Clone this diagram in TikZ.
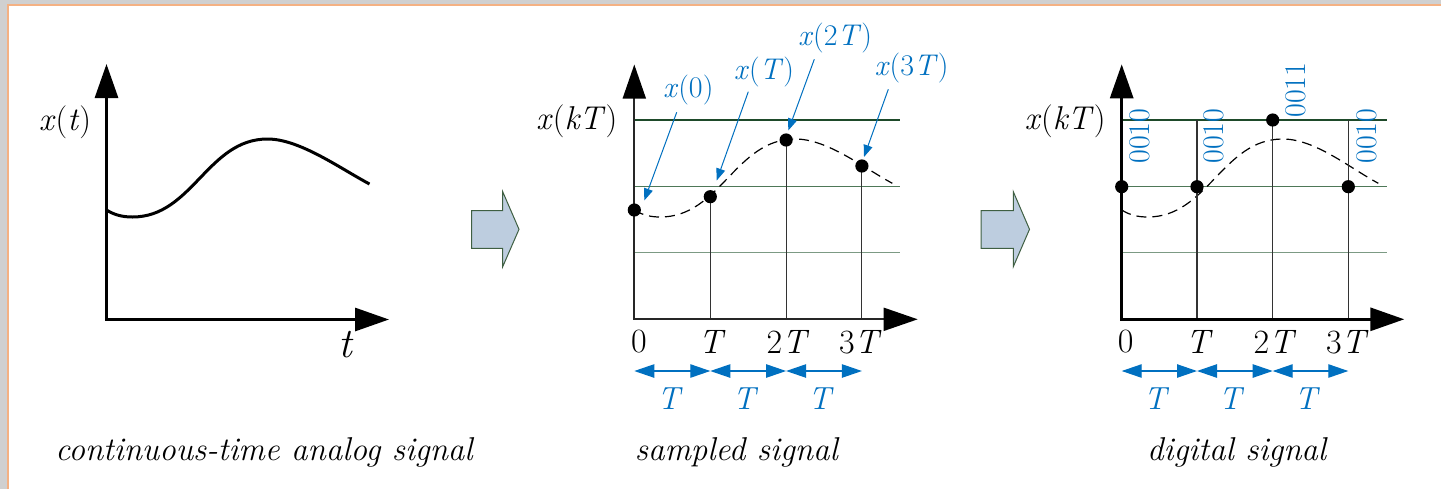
\documentclass[tikz,border=0pt]{standalone}
\usepackage{fontspec}
\usetikzlibrary{arrows.meta}
\definecolor{myblue}{HTML}{0070C0}
\definecolor{gA}{HTML}{1E4A2A}
\definecolor{gB}{HTML}{4E7858}
\definecolor{gC}{HTML}{7C9A84}
\definecolor{arrfill}{HTML}{BDCDDF}
\definecolor{arrdraw}{HTML}{3F5F42}
\definecolor{frameor}{HTML}{F4B183}
\definecolor{bggray}{HTML}{D0D0D0}
\newcommand{\mi}[1]{\textit{#1}}
\tikzset{
  bigtri/.tip={Triangle[length=17pt,width=11.5pt,color=black]},
  axthick/.style={line width=1.5pt, black, line join=miter, {bigtri}-{bigtri}},
  axthin/.style={line width=0.9pt, black!85, line join=miter, {bigtri}-{bigtri}},
  glineA/.style={line width=0.7pt, gA},
  glineB/.style={line width=0.7pt, gB},
  glineC/.style={line width=0.7pt, gC},
  vline/.style={line width=0.55pt, black!80},
  dashcurve/.style={line width=0.6pt, black, dash pattern=on 5pt off 3pt},
  solidcurve/.style={line width=1.5pt, black},
  dot/.style={circle, fill=black, inner sep=0pt, minimum size=6.6pt},
  periodarrow/.style={line width=0.6pt, myblue, {Triangle[length=10pt,width=6.7pt]}-{Triangle[length=10pt,width=6.7pt]}},
  annarrow/.style={line width=0.5pt, myblue, -{Triangle[length=6pt,width=4.5pt]}},
  blockarrow/.style={fill=arrfill, draw=arrdraw, line width=0.5pt, line join=miter},
  axlab/.style={font=\fontsize{16.5}{19}\selectfont, inner sep=0pt},
  ticklab/.style={font=\fontsize{17}{20}\selectfont, inner sep=0pt},
  tlab/.style={font=\fontsize{16}{19}\selectfont\itshape, text=myblue, inner sep=0pt},
  annlab/.style={font=\fontsize{15}{18}\selectfont, text=myblue, inner sep=0pt},
  binlab/.style={font=\fontsize{15}{18}\selectfont, text=myblue, rotate=90, inner sep=0pt},
  caption/.style={font=\fontsize{16.5}{20}\selectfont\itshape, inner sep=0pt},
}
\begin{document}
\begin{tikzpicture}[x=0.5pt,y=-0.5pt]
\useasboundingbox (0,0) rectangle (1441,489);
% frame
\fill[bggray] (0,0) rectangle (1441,489);
\fill[white] (8,5) rectangle (1441,489);
\draw[frameor, line width=1pt] (8,489) -- (8,5) -- (1441,5);

% ---------- Panel 1 ----------
\draw[solidcurve] (106.5,210) .. controls (114.5,215) and (122.5,217) .. (132.5,217)
  .. controls (192.5,217) and (207.5,139) .. (267.5,139)
  .. controls (299.5,139) and (339.5,168) .. (369.5,184);
\coordinate (p1top) at (106.5,64);
\coordinate (p1o) at (106.5,319.5);
\coordinate (p1right) at (389,319.5);
\draw[axthick] (p1top) -- (p1o) -- (p1right);
\node[axlab] (xt) at (65,122) {\mi{x}(\mi{t})};
\node[font=\fontsize{21}{24}\selectfont\itshape, inner sep=0pt] (tl) at (345,345) {t};
\node[caption] (cap1) at (264,452) {continuous-time analog signal};

% block arrows
\draw[blockarrow] (471.7,210.7) -- (502.7,210.7) -- (502.7,191.7) -- (519,229.3)
  -- (502.7,266.7) -- (502.7,248.3) -- (471.7,248.3) -- cycle;
\draw[blockarrow] (981,210.7) -- (1013.3,210.7) -- (1013.3,191.7) -- (1029.5,229.3)
  -- (1013.3,266.7) -- (1013.3,248.3) -- (981,248.3) -- cycle;

% ---------- Panel 2 ----------
\draw[glineA] (634.3,120) -- (900,120);
\draw[glineB] (634.3,186.7) -- (900,186.7);
\draw[glineC] (634.3,252.7) -- (900,252.7);
\draw[dashcurve] (634.3,210) .. controls (642.3,215) and (650.3,217) .. (660.3,217)
  .. controls (720.3,217) and (735.3,139) .. (795.3,139)
  .. controls (827.3,139) and (862.3,167) .. (892.3,183.3);
\coordinate (s0) at (634.3,210);
\coordinate (s1) at (710.3,196.7);
\coordinate (s2) at (786.1,140);
\coordinate (s3) at (861.9,166);
\coordinate (b1) at (710.3,319.3);
\coordinate (b2) at (786.1,319.3);
\coordinate (b3) at (861.9,319.3);
\draw[vline] (b1) -- (s1);
\draw[vline] (b2) -- (s2);
\draw[vline] (b3) -- (s3);
\coordinate (p2top) at (634.3,64.5);
\coordinate (p2o) at (634.3,319.3);
\coordinate (p2right) at (917.7,319.3);
\draw[axthin] (p2top) -- (p2o) -- (p2right);
\node[dot] (d0) at (s0) {};
\node[dot] (d1) at (s1) {};
\node[dot] (d2) at (s2) {};
\node[dot] (d3) at (s3) {};
\node[axlab] (xkt2) at (576.7,121.7) {\mi{x}(\mi{kT})};
\node[ticklab] (t20) at (639,342) {0};
\node[ticklab] (t21) at (712,342) {\mi{T}};
\node[ticklab] (t22) at (788,342) {2\mi{T}};
\node[ticklab] (t23) at (860.3,342) {3\mi{T}};
\coordinate (q0) at (634.3,371);
\coordinate (q1) at (710.3,371);
\coordinate (q2) at (786.1,371);
\coordinate (q3) at (861.9,371);
\draw[periodarrow] (q0) -- (q1);
\draw[periodarrow] (q1) -- (q2);
\draw[periodarrow] (q2) -- (q3);
\node[tlab] (T21) at (668.5,398.5) {T};
\node[tlab] (T22) at (744,398.5) {T};
\node[tlab] (T23) at (819.5,398.5) {T};
% annotations
\node[annlab] (ax0) at (688.3,90) {\mi{x}(0)};
\node[annlab] (ax1) at (764,71.7) {\mi{x}(\mi{T})};
\node[annlab] (ax2) at (835,38.3) {\mi{x}(2\mi{T})};
\node[annlab] (ax3) at (911.5,68.3) {\mi{x}(3\mi{T})};
\coordinate (e0s) at (676.7,112.3);
\coordinate (e0e) at (644.3,200.5);
\coordinate (e1s) at (748.3,91.7);
\coordinate (e1e) at (716.7,180.5);
\coordinate (e2s) at (814.3,59.3);
\coordinate (e2e) at (788.3,130.5);
\coordinate (e3s) at (888.3,89.3);
\coordinate (e3e) at (864,157);
\draw[annarrow] (e0s) -- (e0e);
\draw[annarrow] (e1s) -- (e1e);
\draw[annarrow] (e2s) -- (e2e);
\draw[annarrow] (e3s) -- (e3e);
\node[caption] (cap2) at (736.3,452) {sampled signal};

% ---------- Panel 3 ----------
\draw[glineA] (1121.7,120) -- (1386.7,120);
\draw[glineB] (1121.7,186.7) -- (1386.7,186.7);
\draw[glineC] (1121.7,252.7) -- (1386.7,252.7);
\draw[dashcurve] (1121.7,210) .. controls (1129.7,215) and (1137.7,217) .. (1147.7,217)
  .. controls (1207.7,217) and (1222.7,139) .. (1282.7,139)
  .. controls (1314.7,139) and (1348.3,167) .. (1378.3,183.3);
\coordinate (r0) at (1121.7,186.7);
\coordinate (r1) at (1197,186.7);
\coordinate (r2) at (1272.7,120);
\coordinate (r3) at (1348.3,186.7);
\coordinate (v1t) at (1197,120);
\coordinate (v3t) at (1348.3,120);
\coordinate (c1) at (1197,319.3);
\coordinate (c2) at (1272.7,319.3);
\coordinate (c3) at (1348.3,319.3);
\draw[vline] (c1) -- (v1t);
\draw[vline] (c2) -- (r2);
\draw[vline] (c3) -- (v3t);
\coordinate (p3top) at (1121.7,64.3);
\coordinate (p3o) at (1121.7,319.3);
\coordinate (p3right) at (1404.3,319.3);
\draw[axthick] (p3top) -- (p3o) -- (p3right);
\node[dot] (f0) at (r0) {};
\node[dot] (f1) at (r1) {};
\node[dot] (f2) at (r2) {};
\node[dot] (f3) at (r3) {};
\node[binlab] (bn0) at (1140,136) {0010};
\node[binlab] (bn1) at (1214,136) {0010};
\node[binlab] (bn2) at (1296,90) {0011};
\node[binlab] (bn3) at (1367.3,136) {0010};
\node[axlab] (xkt3) at (1065,121.7) {\mi{x}(\mi{kT})};
\node[ticklab] (t30) at (1125.7,342) {0};
\node[ticklab] (t31) at (1199.3,342) {\mi{T}};
\node[ticklab] (t32) at (1275,342) {2\mi{T}};
\node[ticklab] (t33) at (1347.3,342) {3\mi{T}};
\coordinate (u0) at (1121.7,371);
\coordinate (u1) at (1197,371);
\coordinate (u2) at (1272.7,371);
\coordinate (u3) at (1348.3,371);
\draw[periodarrow] (u0) -- (u1);
\draw[periodarrow] (u1) -- (u2);
\draw[periodarrow] (u2) -- (u3);
\node[tlab] (T31) at (1155,398.5) {T};
\node[tlab] (T32) at (1230,398.5) {T};
\node[tlab] (T33) at (1305.7,398.5) {T};
\node[caption] (cap3) at (1236.7,452) {digital signal};
\end{tikzpicture}
\end{document}
